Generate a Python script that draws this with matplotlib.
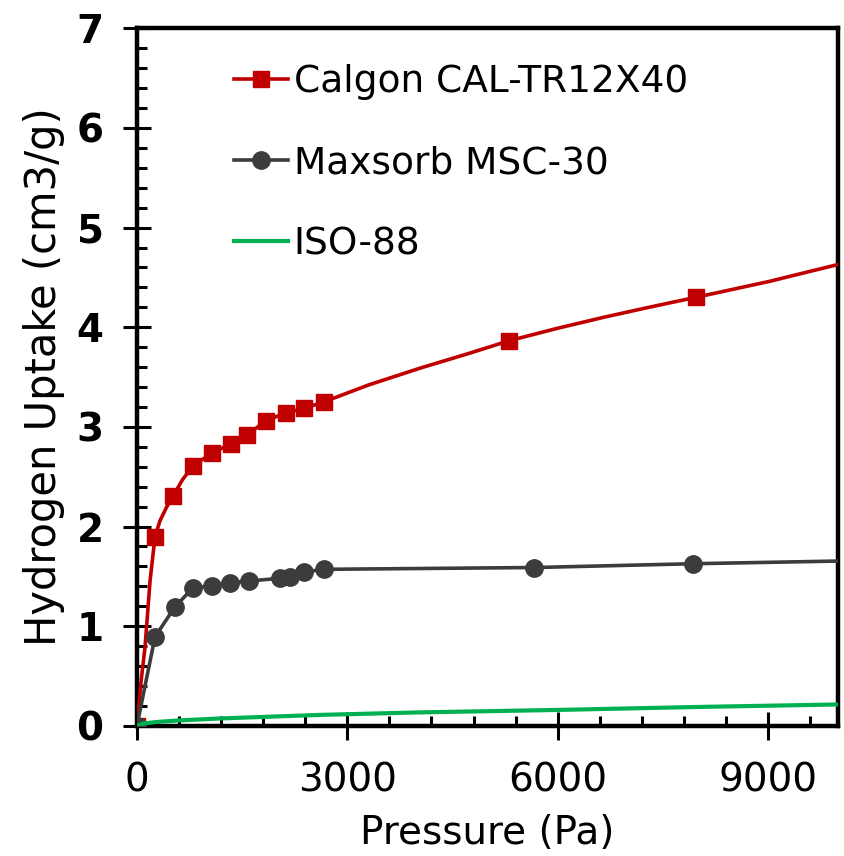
import matplotlib
matplotlib.use('Agg')
import matplotlib.pyplot as plt
from matplotlib.lines import Line2D
from matplotlib.ticker import MultipleLocator

plt.rcParams['font.family'] = ['DejaVu Sans']

# measured points (markers)
calgon_p = [0, 259, 518, 803, 1064, 1338, 1575, 1835, 2119, 2379, 2663, 5310, 7970]
calgon_u = [0, 1.90, 2.31, 2.61, 2.735, 2.83, 2.92, 3.06, 3.14, 3.185, 3.25, 3.865, 4.30]

maxsorb_p = [0, 259, 543, 803, 1064, 1324, 1598, 2044, 2176, 2379, 2673, 5666, 7923]
maxsorb_u = [0, 0.895, 1.195, 1.387, 1.404, 1.437, 1.454, 1.481, 1.497, 1.544, 1.571, 1.589, 1.627]

# fitted curves
calgon_fit_p = [0, 60, 116, 187, 259, 330, 420, 518, 650, 803, 1064, 1338, 1575, 1835, 2119, 2379, 2663,
                3300, 4040, 4700, 5310, 6000, 6657, 7300, 7970, 9018, 10000]
calgon_fit_u = [0, 0.45, 0.79, 1.45, 1.90, 2.06, 2.19, 2.31, 2.47, 2.61, 2.735, 2.83, 2.92, 3.06, 3.14, 3.185, 3.25,
                3.42, 3.59, 3.73, 3.865, 3.99, 4.10, 4.20, 4.30, 4.46, 4.63]

maxsorb_fit_p = maxsorb_p + [10000]
maxsorb_fit_u = maxsorb_u + [1.654]

iso_p = [0, 100, 300, 600, 1200, 1800, 2600, 4000, 6000, 8000, 10000]
iso_u = [0, 0.025, 0.04, 0.055, 0.075, 0.09, 0.11, 0.135, 0.16, 0.19, 0.215]

labels = ['Calgon CAL-TR12X40', 'Maxsorb MSC-30', 'ISO-88']
red, grey, green = '#C00000', '#3C3C3C', '#00B050'

fig = plt.figure(figsize=(8.45, 8.56), dpi=100)
ax = fig.add_axes([0.162, 0.152, 0.830, 0.815])

ax.plot(calgon_fit_p, calgon_fit_u, color=red, lw=2.6, zorder=3)
ax.plot(calgon_p, calgon_u, ls='none', marker='s', ms=11, color=red, zorder=3)
ax.plot(maxsorb_fit_p, maxsorb_fit_u, color=grey, lw=2.6, zorder=4)
ax.plot(maxsorb_p, maxsorb_u, ls='none', marker='o', ms=12.5, color=grey, zorder=4)
ax.plot(iso_p, iso_u, color=green, lw=3, zorder=5)

ax.set_xlim(0, 10000)
ax.set_ylim(0, 7)
ax.xaxis.set_major_locator(MultipleLocator(3000))
ax.xaxis.set_minor_locator(MultipleLocator(600))
ax.yaxis.set_major_locator(MultipleLocator(1))
ax.yaxis.set_minor_locator(MultipleLocator(0.2))

for s in ax.spines.values():
    s.set_linewidth(3.2)

ax.tick_params(which='major', direction='inout', length=20, width=2.2)
ax.tick_params(which='minor', direction='in', length=7, width=2.2)
ax.tick_params(axis='x', which='major', pad=16, labelsize=28)
ax.tick_params(axis='y', which='major', pad=14, labelsize=28)
for t in ax.get_yticklabels():
    t.set_fontweight('bold')

ax.set_xlabel('Pressure (Pa)', fontsize=28, labelpad=10)
ax.set_ylabel('Hydrogen Uptake (cm3/g)', fontsize=30, labelpad=8)

handles = [
    Line2D([], [], color=red, lw=2.6, marker='s', ms=11),
    Line2D([], [], color=grey, lw=2.6, marker='o', ms=12.5),
    Line2D([], [], color=green, lw=3),
]
ax.legend(handles, labels, loc='upper left', bbox_to_anchor=(0.09, 0.997), frameon=False,
          fontsize=27, handlelength=1.45, handletextpad=0.15, labelspacing=1.2)

fig.savefig('out.png', dpi=100)
